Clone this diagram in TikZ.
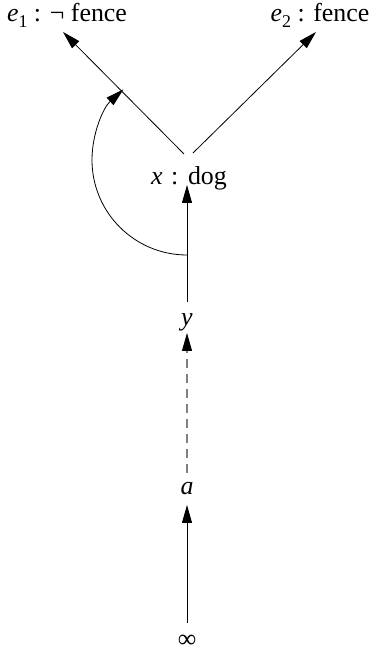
\documentclass[tikz,border=0pt]{standalone}
\usepackage{fontspec}
\setmainfont{Liberation Serif}
\usetikzlibrary{arrows.meta}
\newcommand{\lowsub}[1]{\raisebox{-0.22em}{\fontsize{18}{20}\selectfont #1}}
\begin{document}
\begin{tikzpicture}[x=1bp,y=1bp,
  lbl/.style={inner sep=0pt, anchor=base, font=\fontsize{26}{30}\selectfont},
  arr/.style={line width=0.8bp, -{Triangle[length=18bp,width=10bp]}},
  dline/.style={line width=1.1bp, draw=gray, dash pattern=on 9bp off 6bp}]
\useasboundingbox (0,0) rectangle (374,654);
% labels
\node[lbl] (e1) at (67,632) {\textit{e}\lowsub{1} : ¬ fence};
\node[lbl] (e2) at (320,632) {\textit{e}\lowsub{2} : fence};
\node[lbl] (x) at (189,469) {\textit{x}\hspace{0.08em} : \hspace{0.04em}dog};
\node[lbl] (y) at (187,328) {\textit{y}};
\node[lbl] (a) at (187,159) {\textit{a}};
\node[lbl] (inf) at (187,6) {∞};
% connector ends
\coordinate (xl) at (184,500);
\coordinate (xr) at (193,501);
\coordinate (e1t) at (63,622);
\coordinate (e2t) at (316,622);
\coordinate (xb) at (187,469);
\coordinate (yt) at (187,352);
\coordinate (yb) at (187,321);
\coordinate (yd) at (187,304);
\coordinate (at) at (187,181);
\coordinate (ab) at (187,149);
\coordinate (it) at (187,31);
\coordinate (arcs) at (187,399);
% connectors
\draw[arr] (xl) -- (e1t);
\draw[arr] (xr) -- (e2t);
\draw[arr] (yt) -- (xb);
\draw[dline] (at) -- (yd);
\draw[arr] (yd) -- (yb);
\draw[arr] (it) -- (ab);
\draw[arr] (arcs) arc[start angle=270, end angle=132, radius=95];
\end{tikzpicture}
\end{document}
